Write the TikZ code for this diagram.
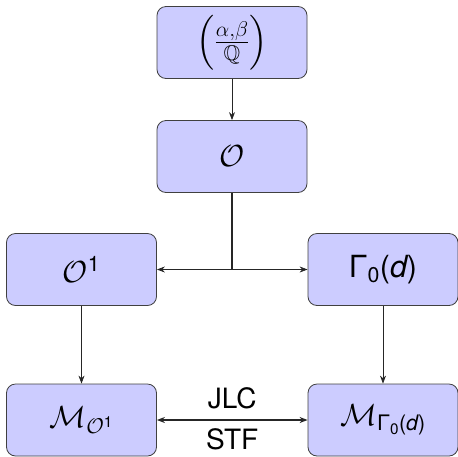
\RequirePackage{fix-cm}
\documentclass[tikz,border=0pt]{standalone}
\usepackage{amsmath,amssymb}
\usepackage{fontspec}
\setmainfont{TeX Gyre Heros}
\usetikzlibrary{arrows.meta}
\newcommand{\sfm}[1]{\text{\normalfont #1}}
\newcommand{\sfi}[1]{\text{\normalfont\itshape #1}}
\begin{document}
\begin{tikzpicture}[x=1pt,y=-1pt,
  box/.style={draw=black!75, fill=blue!20, rounded corners=9pt,
    minimum width=150pt, minimum height=72pt, inner sep=0pt, line width=0.8pt,
    font=\fontsize{30.5}{36}\selectfont},
  conn/.style={draw=black!85, line width=0.8pt, -{Stealth[length=8pt,width=6pt]}},
  dconn/.style={draw=black!85, line width=1.2pt, {Stealth[length=8pt,width=6pt]}-{Stealth[length=8pt,width=6pt]}},
  lab/.style={font=\fontsize{28}{34}\selectfont, inner sep=1pt}]
\useasboundingbox (0,0) rectangle (458,456);
\node[box] (A) at (232,42.5) {$\left(\frac{\alpha,\beta}{\mathbb{Q}}\right)$};
\node[box] (B) at (232,156.5) {$\mathcal{O}$};
\node[box] (C) at (81.5,269.5) {$\mathcal{O}^{\sfm{1}}$};
\node[box] (D) at (383,269.5) {$\sfm{Γ}_{\sfm{0}}\sfm{(}\sfi{d}\sfm{)}$};
\node[box] (E) at (81.5,420) {$\mathcal{M}_{\mathcal{O}^{\sfm{1}}}$};
\node[box] (F) at (383,420) {$\mathcal{M}_{\sfm{Γ}_{\sfm{0}}\sfm{(}\sfi{d}\sfm{)}}$};
\coordinate (J) at (232,269.5);
\draw[conn] (A) -- (B);
\draw[draw=black!85, line width=1.3pt] (B.south) -- (J);
\draw[conn] (J) -- (C.east);
\draw[conn] (J) -- (D.west);
\draw[conn] (C) -- (E);
\draw[conn] (D) -- (F);
\draw[dconn] (E) -- node[lab, above, yshift=9.5pt] {JLC} node[lab, below, yshift=-7pt] {STF} (F);
\end{tikzpicture}
\end{document}
